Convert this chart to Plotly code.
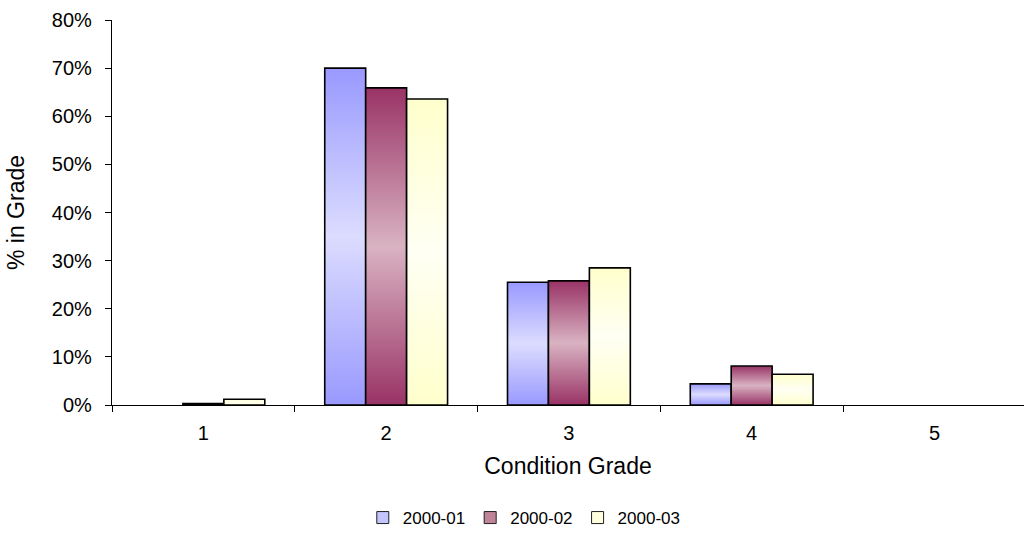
import plotly.graph_objects as go

# Share of assets in each condition grade, by survey year (percent)
grades = [1, 2, 3, 4, 5]
years = ["2000-01", "2000-02", "2000-03"]
pct_2000_01 = [0.0, 70.0, 25.5, 4.4, 0.0]
pct_2000_02 = [0.3, 65.9, 25.8, 8.1, 0.0]
pct_2000_03 = [1.2, 63.6, 28.5, 6.4, 0.0]
y_ticks = [0, 10, 20, 30, 40, 50, 60, 70, 80]

series = [pct_2000_01, pct_2000_02, pct_2000_03]
# (edge colour, centre colour, legend swatch colour)
palettes = [
    ("#9999FF", "#DCDCFF", "#C4C4FF"),
    ("#993366", "#D9B3C2", "#C08499"),
    ("#FFFFCC", "#FFFFF4", "#FFFFE0"),
]

group_width = 0.672
bar_w = group_width / len(series)

fig = go.Figure()

for j, (vals, (edge, centre, swatch)) in enumerate(zip(series, palettes)):
    offset = (j - (len(series) - 1) / 2) * bar_w
    for g, v in zip(grades, vals):
        if v <= 0:
            continue
        c = g + offset
        x0, x1 = c - bar_w / 2, c + bar_w / 2
        fig.add_trace(go.Scatter(
            x=[x0, x0, x1, x1, x0],
            y=[0, v / 100, v / 100, 0, 0],
            mode="lines",
            fill="toself",
            fillgradient=dict(
                type="vertical",
                colorscale=[[0, edge], [0.5, centre], [1, edge]],
            ),
            line=dict(color="black", width=1.6),
            showlegend=False,
            hoverinfo="skip",
        ))
    # legend entry for the year
    fig.add_trace(go.Bar(
        x=[None], y=[None], name=years[j],
        marker=dict(color=swatch, line=dict(color="#222222", width=1)),
    ))

boundaries = [g - 0.5 for g in grades] + [grades[-1] + 0.5]

fig.update_layout(
    width=1024, height=536,
    margin=dict(l=112, r=0, t=20, b=131),
    paper_bgcolor="white", plot_bgcolor="white",
    font=dict(family="Liberation Sans, Arial, sans-serif", size=19, color="black"),
    showlegend=True,
    legend=dict(
        orientation="h",
        xref="container", x=0.512, xanchor="center",
        yref="container", y=0.0, yanchor="bottom",
        font=dict(size=17),
        itemwidth=30,
        traceorder="normal",
    ),
    xaxis=dict(
        range=[0.5, 5.49],
        tickmode="array", tickvals=grades, ticktext=[str(g) for g in grades],
        tickfont=dict(size=20),
        ticks="", ticklabelstandoff=10,
        showline=True, linecolor="black", linewidth=1.2,
        showgrid=False, zeroline=False,
        minor=dict(tickmode="array", tickvals=boundaries, ticks="outside",
                   ticklen=6, tickcolor="black", tickwidth=1, showgrid=False),
        title=dict(text="Condition Grade", standoff=14),
        fixedrange=True,
    ),
    yaxis=dict(
        range=[0, 0.8],
        tickmode="array", tickvals=[t / 100 for t in y_ticks],
        ticktext=[f"{t}%" for t in y_ticks],
        tickfont=dict(size=20),
        ticks="outside", ticklen=6, tickcolor="black", tickwidth=1,
        ticklabelstandoff=9,
        showline=True, linecolor="black", linewidth=1.2,
        showgrid=False, zeroline=False,
        title=dict(text="% in Grade", standoff=20),
        fixedrange=True,
    ),
)

fig.write_html("out.html")
